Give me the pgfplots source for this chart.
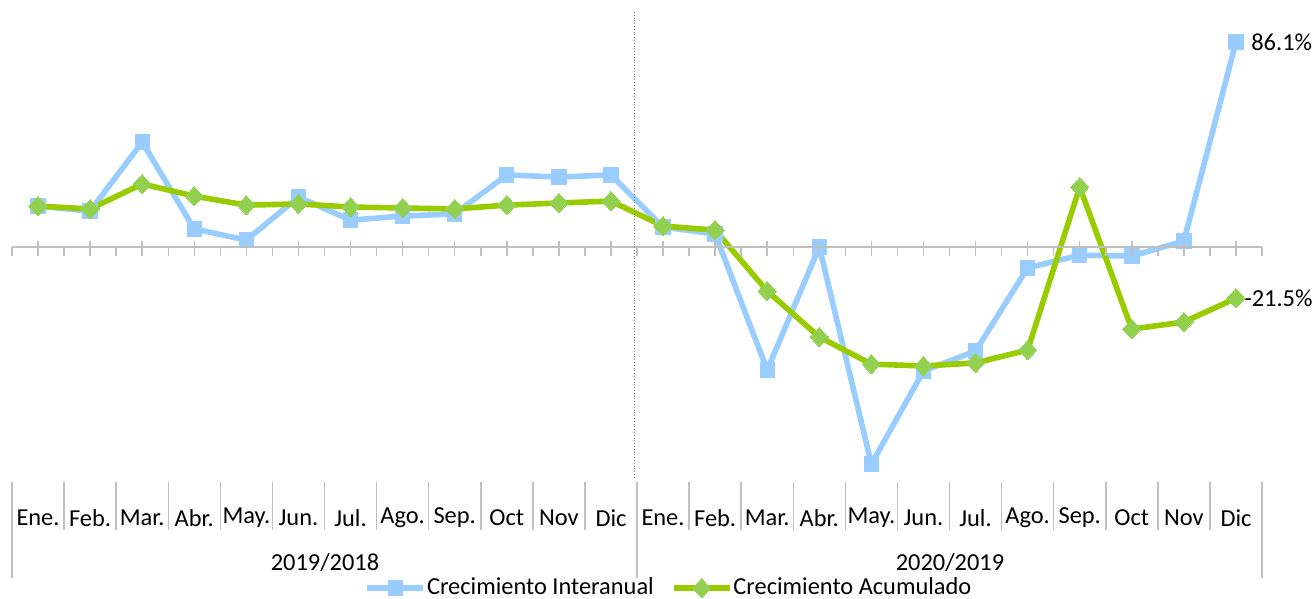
\documentclass[border=0pt]{standalone}
\usepackage{fontspec}
\setmainfont{Carlito}
\usepackage{pgfplots}
\pgfplotsset{compat=1.18}

\definecolor{inter}{HTML}{99CCFF}
\definecolor{acuml}{HTML}{99CC00}
\definecolor{acumm}{HTML}{92D050}
\definecolor{rejilla}{HTML}{BFBFBF}

\begin{document}
\begin{tikzpicture}[font=\fontsize{12.2}{14}\selectfont]
\begin{axis}[
    scale only axis,
    width=625pt, height=235pt,
    xmin=0.5, xmax=24.5,
    ymin=-97.9, ymax=99.6,
    hide axis,
    clip=false,
    legend columns=2,
    legend style={draw=none, at={(0.2816,-0.2298)}, anchor=west,
        font=\fontsize{12.2}{14}\selectfont, inner sep=0pt,
        nodes={inner sep=0.5pt},
        /tikz/every even column/.append style={column sep=8pt}},
    legend image code/.code={\draw[mark repeat=2,mark phase=2,#1]
        plot coordinates {(0pt,0pt)(14pt,0pt)(28pt,0pt)};},
]
% Crecimiento Interanual
\addplot[color=inter, line width=2.8pt, mark=square*, mark size=3.6pt,
    mark options={solid, fill=inter, draw=inter, line width=0pt}]
coordinates {
(1,17.2) (2,15.1) (3,44.1) (4,7.6) (5,2.9) (6,21.0) (7,11.3) (8,13.0)
(9,13.9) (10,30.3) (11,29.4) (12,30.3) (13,8.4) (14,5.5) (15,-51.7) (16,0)
(17,-91.2) (18,-52.1) (19,-43.7) (20,-8.8) (21,-3.4) (22,-3.8) (23,2.5) (24,86.1)
};
\addlegendentry{Crecimiento Interanual}
% Crecimiento Acumulado
\addplot[color=acuml, line width=2.8pt, mark=diamond*, mark size=4.8pt,
    mark options={solid, fill=acumm, draw=acumm, line width=0pt, xscale=1.27}]
coordinates {
(1,17.2) (2,16.0) (3,26.5) (4,21.4) (5,17.6) (6,18.1) (7,16.8) (8,16.4)
(9,16.0) (10,17.6) (11,18.5) (12,19.3) (13,8.8) (14,7.1) (15,-18.5) (16,-37.8)
(17,-49.2) (18,-50.0) (19,-48.7) (20,-43.3) (21,25.2) (22,-34.5) (23,-31.5) (24,-21.5)
};
\addlegendentry{Crecimiento Acumulado}

\node[anchor=west, inner sep=1pt, xshift=6.5pt] at (axis cs:24,86.1) {86.1\%};
\node[anchor=west, inner sep=1pt, xshift=3pt] at (axis cs:24,-21.5) {-21.5\%};
\end{axis}

% marco en pixeles de la figura original (1 px = 0.5pt)
\begin{scope}[x=0.5pt, y=-0.5pt, shift={([xshift=-6pt,yshift=240pt]current axis.south west)}]
\path (0,0) rectangle (1316,597);
% linea del cero y marcas
\draw[rejilla, line width=0.75pt] (12,247) -- (1262,247);
\foreach \i in {0,...,24} {
    \draw[rejilla, line width=0.75pt] ({12+\i*52.0833},247) -- ++(0,9);
}
\foreach \i in {0,...,23} {
    \draw[rejilla, line width=0.75pt] ({38.04+\i*52.0833},241) -- ++(0,15);
}
% separacion entre periodos
\draw[gray, densely dotted, line width=0.4pt] (634,12) -- (634,478);
% tabla de categorias
\foreach \i in {0,...,24} {
    \draw[rejilla, line width=0.75pt] ({12+\i*52.0833},482) -- ++(0,48);
}
\foreach \i in {0,12,24} {
    \draw[rejilla, line width=0.75pt] ({12+\i*52.0833},482) -- ++(0,96);
}
\foreach \m [count=\j from 0] in {Ene.,Feb.,Mar.,Abr.,May.,Jun.,Jul.,Ago.,Sep.,Oct,Nov,Dic,
    Ene.,Feb.,Mar.,Abr.,May.,Jun.,Jul.,Ago.,Sep.,Oct,Nov,Dic} {
    \node[inner sep=0pt] at ({38.04+\j*52.0833},518) {\m};
}
\node[inner sep=0pt] at (325,563) {2019/2018};
\node[inner sep=0pt] at (950,563) {2020/2019};
\end{scope}
\end{tikzpicture}
\end{document}
